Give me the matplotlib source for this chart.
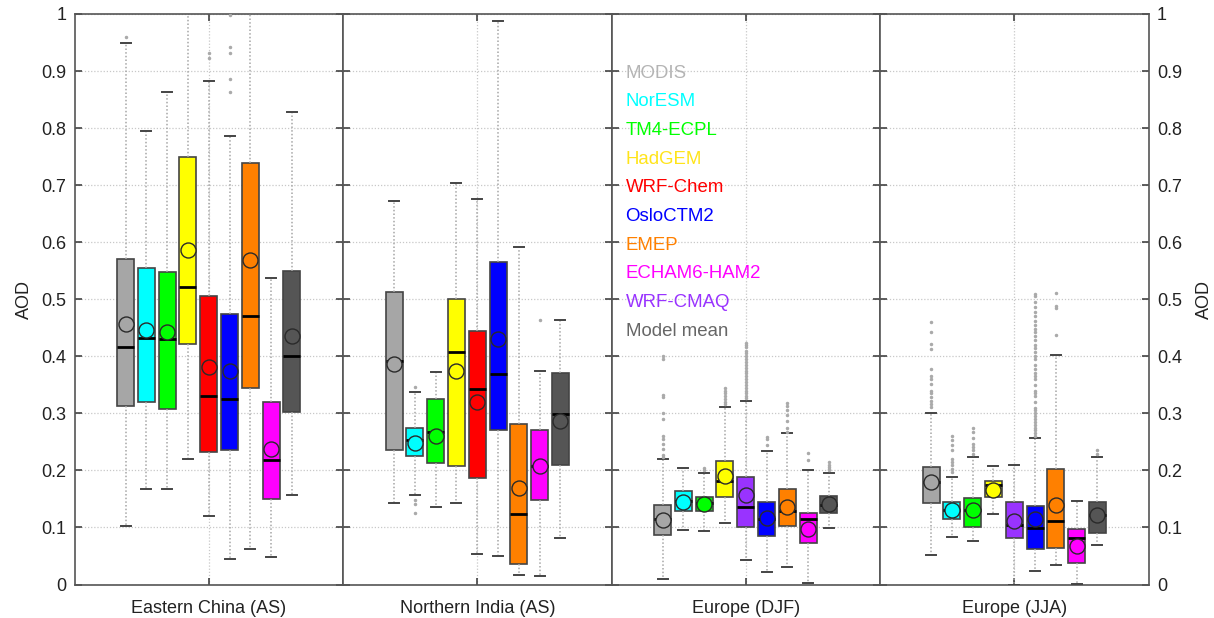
#!/usr/bin/env python3
import matplotlib
matplotlib.use('Agg')
import matplotlib.pyplot as plt

plt.rcParams['font.family'] = ['Liberation Sans', 'DejaVu Sans']

regions = ['Eastern China (AS)', 'Northern India (AS)', 'Europe (DJF)', 'Europe (JJA)']

models_asia = ['MODIS', 'NorESM', 'TM4-ECPL', 'HadGEM', 'WRF-Chem', 'OsloCTM2', 'EMEP', 'ECHAM6-HAM2', 'Model mean']
models_eur = ['MODIS', 'NorESM', 'TM4-ECPL', 'HadGEM', 'WRF-CMAQ', 'OsloCTM2', 'EMEP', 'ECHAM6-HAM2', 'Model mean']
legend_models = ['MODIS', 'NorESM', 'TM4-ECPL', 'HadGEM', 'WRF-Chem', 'OsloCTM2', 'EMEP', 'ECHAM6-HAM2', 'WRF-CMAQ', 'Model mean']

box_colors = {
    'MODIS': '#a6a6a6', 'NorESM': '#00ffff', 'TM4-ECPL': '#00ff00', 'HadGEM': '#ffff00',
    'WRF-Chem': '#ff0000', 'OsloCTM2': '#0000ff', 'EMEP': '#ff8000', 'ECHAM6-HAM2': '#ff00ff',
    'WRF-CMAQ': '#9933ff', 'Model mean': '#555555',
}
text_colors = dict(box_colors, **{'MODIS': '#b4b4b4', 'HadGEM': '#ffe41a', 'Model mean': '#666666'})

# Eastern China
china_low = [0.103, 0.167, 0.168, 0.220, 0.120, 0.044, 0.063, 0.048, 0.157]
china_q1 = [0.313, 0.320, 0.308, 0.422, 0.233, 0.236, 0.344, 0.150, 0.303]
china_med = [0.416, 0.432, 0.430, 0.522, 0.330, 0.326, 0.470, 0.218, 0.400]
china_q3 = [0.571, 0.555, 0.548, 0.749, 0.505, 0.474, 0.739, 0.320, 0.550]
china_high = [0.950, 0.795, 0.864, 1.05, 0.883, 0.786, 1.05, 0.538, 0.828]
china_mean = [0.456, 0.446, 0.443, 0.587, 0.381, 0.375, 0.569, 0.238, 0.435]
china_out = [[0.96], [], [], [], [0.932, 0.923], [0.863, 0.886, 0.932, 0.942, 0.998], [], [], []]

# Northern India
india_low = [0.143, 0.157, 0.135, 0.142, 0.054, 0.050, 0.016, 0.015, 0.082]
india_q1 = [0.235, 0.225, 0.213, 0.208, 0.187, 0.271, 0.036, 0.148, 0.210]
india_med = [0.392, 0.253, 0.268, 0.408, 0.343, 0.369, 0.124, 0.208, 0.298]
india_q3 = [0.512, 0.274, 0.325, 0.500, 0.445, 0.566, 0.282, 0.270, 0.371]
india_high = [0.672, 0.337, 0.372, 0.704, 0.675, 0.987, 0.592, 0.374, 0.464]
india_mean = [0.387, 0.248, 0.260, 0.374, 0.320, 0.430, 0.170, 0.208, 0.287]
india_out = [[], [0.347, 0.148, 0.141, 0.125], [], [], [], [], [], [0.463], []]

# Europe winter
djf_low = [0.010, 0.096, 0.093, 0.107, 0.043, 0.022, 0.031, 0.003, 0.099]
djf_q1 = [0.086, 0.129, 0.128, 0.153, 0.100, 0.085, 0.103, 0.073, 0.126]
djf_med = [0.115, 0.147, 0.142, 0.182, 0.136, 0.115, 0.128, 0.115, 0.140]
djf_q3 = [0.139, 0.164, 0.154, 0.216, 0.189, 0.145, 0.168, 0.125, 0.155]
djf_high = [0.220, 0.205, 0.196, 0.311, 0.322, 0.234, 0.266, 0.200, 0.196]
djf_mean = [0.113, 0.145, 0.141, 0.191, 0.157, 0.116, 0.135, 0.097, 0.141]
djf_out = [
    [0.400, 0.395, 0.332, 0.328, 0.300, 0.290, 0.260, 0.255, 0.247, 0.238, 0.227, 0.224],
    [],
    [0.204, 0.200],
    [0.345, 0.340, 0.335, 0.330, 0.325, 0.320, 0.316],
    [0.424, 0.420, 0.416, 0.410, 0.405, 0.400, 0.395, 0.390, 0.385, 0.380, 0.375,
     0.370, 0.365, 0.360, 0.355, 0.350, 0.345, 0.340, 0.335, 0.330, 0.327],
    [0.258, 0.255, 0.245],
    [0.318, 0.313, 0.306, 0.297, 0.286, 0.274, 0.268],
    [0.231, 0.219],
    [0.215, 0.210, 0.206, 0.203, 0.200],
]

# Europe summer
jja_low = [0.052, 0.083, 0.077, 0.123, 0.000, 0.023, 0.035, 0.001, 0.070]
jja_q1 = [0.143, 0.114, 0.101, 0.154, 0.082, 0.062, 0.064, 0.037, 0.090]
jja_med = [0.179, 0.131, 0.130, 0.174, 0.105, 0.099, 0.111, 0.081, 0.122]
jja_q3 = [0.206, 0.144, 0.151, 0.181, 0.144, 0.138, 0.202, 0.098, 0.144]
jja_high = [0.300, 0.188, 0.223, 0.208, 0.209, 0.256, 0.403, 0.146, 0.223]
jja_mean = [0.179, 0.130, 0.130, 0.166, 0.112, 0.115, 0.140, 0.068, 0.122]
jja_out = [
    [0.460, 0.443, 0.421, 0.412, 0.378, 0.365, 0.361, 0.351, 0.339, 0.336, 0.329, 0.322, 0.317, 0.312],
    [0.260, 0.253, 0.244, 0.235, 0.220, 0.215, 0.209, 0.203, 0.197],
    [0.275, 0.267, 0.256, 0.247, 0.241, 0.235, 0.229],
    [],
    [],
    [0.510, 0.505, 0.495, 0.487, 0.478, 0.470, 0.462, 0.455, 0.448, 0.442, 0.435, 0.428, 0.420, 0.415,
     0.408, 0.400, 0.395, 0.385, 0.378, 0.370, 0.365, 0.360, 0.350, 0.340, 0.335, 0.330, 0.320, 0.310,
     0.305, 0.300, 0.295, 0.290, 0.285, 0.280, 0.275, 0.270, 0.265, 0.260],
    [0.511, 0.489, 0.485, 0.437],
    [],
    [0.235, 0.229],
]

panels = [
    (models_asia, china_low, china_q1, china_med, china_q3, china_high, china_mean, china_out),
    (models_asia, india_low, india_q1, india_med, india_q3, india_high, india_mean, india_out),
    (models_eur, djf_low, djf_q1, djf_med, djf_q3, djf_high, djf_mean, djf_out),
    (models_eur, jja_low, jja_q1, jja_med, jja_q3, jja_high, jja_mean, jja_out),
]

yticks = [i / 10 for i in range(11)]
yticklabels = ['0', '0.1', '0.2', '0.3', '0.4', '0.5', '0.6', '0.7', '0.8', '0.9', '1']

W, H = 1214, 618
LEFT, PANEL_W, BOTTOM, PANEL_H = 74.5, 268.5, 584.5, 570.5
FONT = 13

fig = plt.figure(figsize=(W / 100, H / 100), dpi=100)

for i, panel in enumerate(panels):
    models, low, q1, med, q3, high, mean, out = panel
    ax = fig.add_axes([(LEFT + i * PANEL_W) / W, (H - BOTTOM) / H, PANEL_W / W, PANEL_H / H])

    stats = []
    for j in range(len(models)):
        stats.append({'whislo': low[j], 'q1': q1[j], 'med': med[j], 'q3': q3[j],
                      'whishi': high[j], 'fliers': out[j], 'mean': mean[j]})
    positions = [j - 4 for j in range(len(models))]

    parts = ax.bxp(stats, positions=positions, widths=0.82, capwidths=0.48, patch_artist=True,
                   showmeans=True, meanline=False, manage_ticks=False, zorder=3,
                   boxprops=dict(edgecolor='#444444', linewidth=1.2),
                   medianprops=dict(color='black', linewidth=2),
                   whiskerprops=dict(color='#a6a6a6', linewidth=1.1, linestyle=(0, (1, 1.4))),
                   capprops=dict(color='#444444', linewidth=1.4),
                   flierprops=dict(marker='o', markersize=1.5, markerfacecolor='#aaaaaa',
                                   markeredgecolor='#aaaaaa', linestyle='none'),
                   meanprops=dict(marker='o', markersize=10.8, markeredgecolor='#2a2a2a',
                                  markeredgewidth=1.0))
    for j, name in enumerate(models):
        parts['boxes'][j].set_facecolor(box_colors[name])
        parts['means'][j].set_markerfacecolor(box_colors[name])

    ax.set_xlim(-6.455, 6.455)
    ax.set_ylim(0, 1)
    ax.set_xticks([0])
    ax.set_xticklabels([regions[i]], fontsize=FONT, color='#222222')
    ax.set_yticks(yticks)
    ax.set_yticklabels(yticklabels, fontsize=FONT, color='#222222')
    ax.tick_params(axis='both', direction='in', length=5, width=1.1, color='#333333',
                   top=True, bottom=True, left=True, right=True,
                   labelleft=(i == 0), labelright=(i == 3))
    ax.tick_params(axis='x', pad=11)
    ax.tick_params(axis='y', pad=6)
    ax.grid(True, color='#c8c8c8', linestyle=(0, (1, 1.5)), linewidth=0.9, zorder=0)
    ax.set_axisbelow(True)
    for spine in ax.spines.values():
        spine.set_color('#555555')
        spine.set_linewidth(1.2)

    if i == 0:
        ax.set_ylabel('AOD', fontsize=FONT, color='#222222', labelpad=6)
    if i == 2:
        # legend written as coloured labels inside the third panel
        for k, name in enumerate(legend_models):
            ax.text(0.0525, 0.896 - k * 0.0502, name, transform=ax.transAxes, fontsize=13.4,
                    color=text_colors[name], va='center', ha='left', zorder=5)
    if i == 3:
        ax.yaxis.set_label_position('right')
        ax.set_ylabel('AOD', fontsize=FONT, color='#222222', labelpad=10)

fig.savefig('out.png', dpi=100)
plt.close(fig)
